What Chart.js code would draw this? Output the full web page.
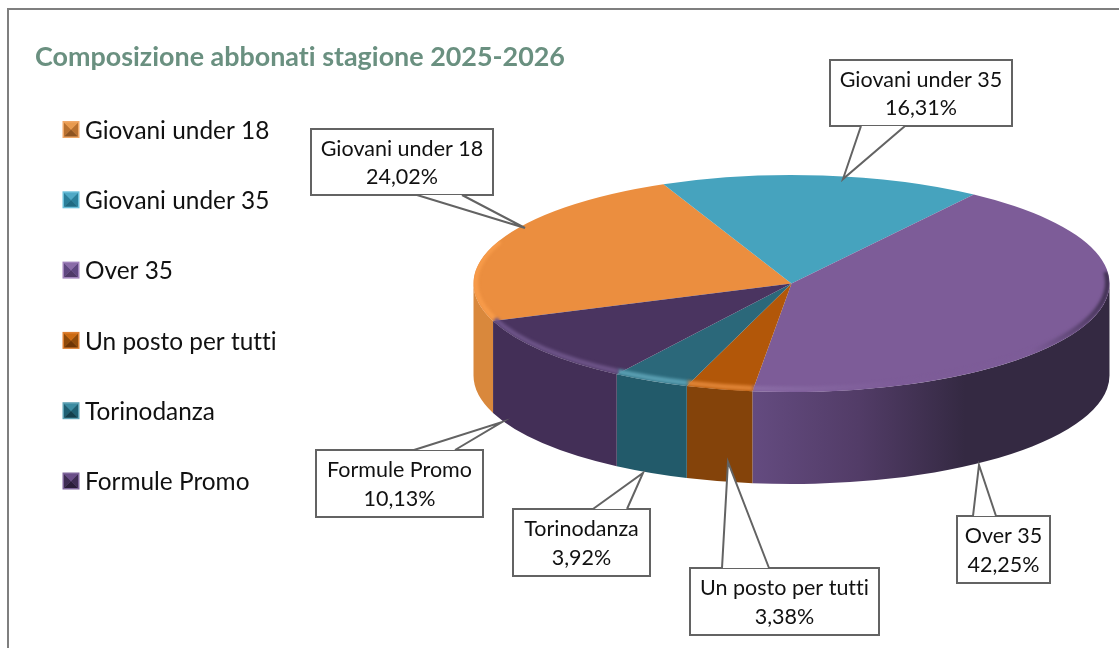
<!DOCTYPE html>
<html>
<head>
<meta charset="utf-8">
<title>Composizione abbonati</title>
<script src="https://cdn.jsdelivr.net/npm/chart.js@4/dist/chart.umd.min.js"></script>
<style>
  html, body { margin: 0; padding: 0; background: #fff; }
  canvas { display: block; }
</style>
</head>
<body>
<canvas id="torta" width="1119" height="648"></canvas>
<script>
const titolo = "Composizione abbonati stagione 2025-2026";
const categorie = ["Giovani under 18", "Giovani under 35", "Over 35", "Un posto per tutti", "Torinodanza", "Formule Promo"];
const valori = [24.02, 16.31, 42.25, 3.38, 3.92, 10.13];

const col_top = ["#EB8E3F", "#46A3BE", "#7D5C98", "#B25709", "#2B687A", "#4A3460"];
const col_lato = ["#D9883C", "#2F8AA5", "#5E4675", "#84430A", "#225A6A", "#432F57"];
const col_bordo = ["#F79B4A", "#46A3BE", "#8A6CA5", "#E08436", "#5A9FB2", "#6D5488"];
// cornice, sopra, lati, sotto
const col_legenda = [
  ["#F0A868", "#E89A4F", "#B8702F", "#8E5420"],
  ["#6CC0DA", "#4FA9C6", "#2A7F9A", "#1F6A82"],
  ["#A184BC", "#8A6CA8", "#5F4780", "#4F3A68"],
  ["#DE8032", "#CC6A12", "#8F4A0A", "#6E3505"],
  ["#5FA2B5", "#3C8CA2", "#1F5F72", "#143F4C"],
  ["#7E659A", "#6A4E88", "#3E2C52", "#2A1D38"]
];

// box = x0, y0, x1, y1 del riquadro, coda = base sx, punta, base dx
const callout = [
  { box: [311, 129, 493, 195], coda: [[417, 195], [525, 228], [462, 195]] },
  { box: [830, 60, 1012, 126], coda: [[861, 126], [843, 179], [905, 126]] },
  { box: [957, 516, 1050, 583], coda: [[973, 516], [979, 465], [996, 516]] },
  { box: [690, 568, 879, 635], coda: [[722, 568], [728, 462], [769, 568]] },
  { box: [513, 509, 650, 576], coda: [[593, 509], [643, 473], [627, 509]] },
  { box: [316, 450, 483, 517], coda: [[414, 450], [502, 422], [455, 450]] }
];

const CX = 791.5, RAGGIO = 318;
const CY_TOP = 283.5, RY = 108.5, ALTEZZA = 92;
const FONT = "Lato, Carlito, sans-serif";

function intervalliFronte(a0, a1) {
  // parte visibile del lato: angoli da 0 a PI
  let out = [];
  for (let k = -1; k <= 1; k++) {
    let s = Math.max(a0 + k * 2 * Math.PI, 0);
    let e = Math.min(a1 + k * 2 * Math.PI, Math.PI);
    if (e > s) out.push([s, e]);
  }
  return out;
}

function disegnaLati(ctx, archi) {
  archi.forEach((arco, i) => {
    intervalliFronte(arco.startAngle, arco.endAngle).forEach(([s, e]) => {
      ctx.beginPath();
      ctx.ellipse(CX, CY_TOP, RAGGIO, RY, 0, s, e);
      ctx.ellipse(CX, CY_TOP + ALTEZZA, RAGGIO, RY, 0, e, s, true);
      ctx.closePath();
      if (i === 2) {
        let g = ctx.createLinearGradient(752, 0, 965, 0);
        g.addColorStop(0, "#644B80");
        g.addColorStop(0.5, "#523C67");
        g.addColorStop(1, "#342942");
        ctx.fillStyle = g;
      } else {
        ctx.fillStyle = col_lato[i];
      }
      ctx.fill();
    });
  });
}

function disegnaBordo(ctx, archi) {
  // riflesso morbido sul bordo anteriore del piano
  ctx.save();
  ctx.beginPath();
  ctx.ellipse(CX, CY_TOP, RAGGIO, RY, 0, 0, 2 * Math.PI);
  ctx.clip();
  ctx.filter = "blur(1.5px)";
  ctx.lineWidth = 5;
  archi.forEach((arco, i) => {
    let s = arco.startAngle, e = arco.endAngle;
    if (i === 0) e = s + 0.75;
    if (i === 1) return;
    if (i === 2) s = 2 * Math.PI - 0.1; // sopra a destra niente riflesso
    ctx.beginPath();
    ctx.ellipse(CX, CY_TOP - 1, RAGGIO - 2, RY - 2, 0, s, e);
    if (i === 2) {
      let g = ctx.createLinearGradient(752, 0, 1110, 0);
      g.addColorStop(0, "#8A6CA5");
      g.addColorStop(0.4, "#7D5C98");
      g.addColorStop(0.78, "#7D5C98");
      g.addColorStop(0.92, "#5A4370");
      g.addColorStop(1, "#3F3050");
      ctx.strokeStyle = g;
    } else {
      ctx.strokeStyle = col_bordo[i];
    }
    ctx.stroke();
  });
  ctx.restore();
}

function disegnaCallout(ctx, c, nome, valore) {
  const [x0, y0, x1, y1] = c.box;
  ctx.save();
  ctx.fillStyle = "#fff";
  ctx.fillRect(x0, y0, x1 - x0, y1 - y0);
  ctx.strokeStyle = "#636363";
  ctx.lineWidth = 2;
  ctx.lineJoin = "miter";
  ctx.strokeRect(x0, y0, x1 - x0, y1 - y0);
  // coda: prima cancello il lato del riquadro, poi le due linee
  ctx.beginPath();
  ctx.moveTo(c.coda[0][0], c.coda[0][1]);
  ctx.lineTo(c.coda[1][0], c.coda[1][1]);
  ctx.lineTo(c.coda[2][0], c.coda[2][1]);
  ctx.closePath();
  ctx.fill();
  ctx.beginPath();
  ctx.moveTo(c.coda[0][0], c.coda[0][1]);
  ctx.lineTo(c.coda[1][0], c.coda[1][1]);
  ctx.lineTo(c.coda[2][0], c.coda[2][1]);
  ctx.stroke();
  ctx.fillStyle = "#111";
  ctx.font = "21.5px " + FONT;
  ctx.textAlign = "center";
  ctx.textBaseline = "middle";
  let mx = (x0 + x1) / 2, my = (y0 + y1) / 2;
  ctx.fillText(nome, mx, my - 13);
  ctx.fillText(valore.toFixed(2).replace(".", ",") + "%", mx, my + 15.5);
  ctx.restore();
}

function disegnaMarker(ctx, x, y, lato, colori) {
  const m = lato / 2;
  ctx.fillStyle = colori[0];
  ctx.fillRect(x, y, lato, lato);
  const b = 1.5, x0 = x + b, y0 = y + b, l = lato - 2 * b;
  const tri = [
    [[x0, y0 + l], [x0, y0], colori[2]],
    [[x0 + l, y0], [x0 + l, y0 + l], colori[2]],
    [[x0 + l, y0 + l], [x0, y0 + l], colori[3]],
    [[x0, y0], [x0 + l, y0], colori[1]]
  ];
  tri.forEach(t => {
    ctx.beginPath();
    ctx.moveTo(t[0][0], t[0][1]);
    ctx.lineTo(t[1][0], t[1][1]);
    ctx.lineTo(x + m, y + m);
    ctx.closePath();
    ctx.fillStyle = t[2];
    ctx.fill();
  });
}

const pluginTorta3d = {
  id: "torta3d",
  beforeDatasetsDraw(chart) {
    const ctx = chart.ctx;
    const archi = chart.getDatasetMeta(0).data;
    disegnaLati(ctx, archi);
    // schiaccio il piano: la torta di Chart.js diventa un'ellisse
    const area = chart.chartArea;
    const cyChart = (area.top + area.bottom) / 2;
    ctx.save();
    ctx.translate(0, CY_TOP);
    ctx.scale(1, RY / RAGGIO);
    ctx.translate(0, -cyChart);
  },
  afterDatasetsDraw(chart) {
    const ctx = chart.ctx;
    ctx.restore();
    disegnaBordo(ctx, chart.getDatasetMeta(0).data);
  },
  afterDraw(chart) {
    const ctx = chart.ctx;
    ctx.save();
    ctx.textRendering = "optimizeSpeed"; // niente legature tipo "tt"
    // cornice: destra e sotto restano fuori dalla pagina
    ctx.strokeStyle = "#7F7F7F";
    ctx.lineWidth = 2;
    ctx.strokeRect(8, 9, 1130, 660);
    // titolo
    ctx.fillStyle = "#6A9080";
    ctx.font = "bold 26.9px " + FONT;
    ctx.textAlign = "left";
    ctx.textBaseline = "middle";
    ctx.fillText(titolo, 35, 57.5);
    // legenda
    categorie.forEach((nome, i) => {
      let y = 129.5 + i * 70.3;
      disegnaMarker(ctx, 62.5, y - 8.5, 17, col_legenda[i]);
      ctx.fillStyle = "#111";
      ctx.font = "24.4px " + FONT;
      ctx.textAlign = "left";
      ctx.fillText(nome, 85, y + 1.5);
    });
    callout.forEach((c, i) => disegnaCallout(ctx, c, categorie[i], valori[i]));
    ctx.restore();
  }
};

document.addEventListener("DOMContentLoaded", () => {
  let ctx = document.getElementById("torta").getContext("2d");
  new Chart(ctx, {
    type: "pie",
    data: {
      labels: categorie,
      datasets: [{ data: valori, backgroundColor: col_top, borderWidth: 0 }]
    },
    options: {
      responsive: false,
      animation: false,
      rotation: 249.8,
      layout: { padding: { left: 473.5, right: 9.5, top: 6, bottom: 6 } },
      plugins: { legend: { display: false }, tooltip: { enabled: false } }
    },
    plugins: [pluginTorta3d]
  });
});
</script>
</body>
</html>
